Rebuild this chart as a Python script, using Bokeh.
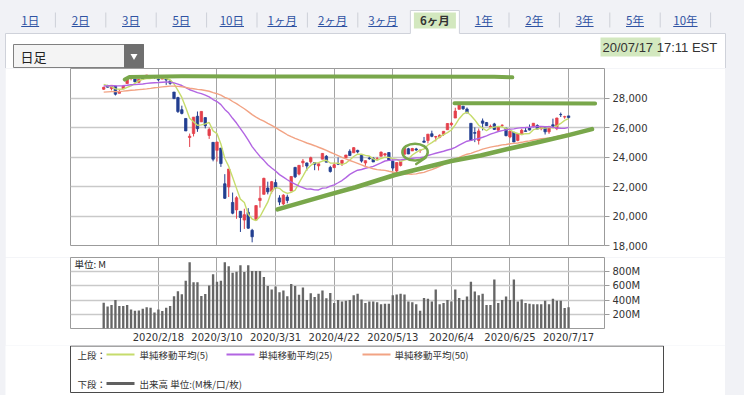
import pandas as pd
from bokeh.plotting import figure
from bokeh.models import Range1d, FixedTicker, NumeralTickFormatter, PrintfTickFormatter, ColumnDataSource, Grid
from bokeh.layouts import column
from bokeh.embed import file_html
from bokeh.resources import INLINE
from bokeh.core.properties import value

# ---------------- data ----------------
dates = ["2020/1/28", "2020/1/29", "2020/1/30", "2020/1/31",
         "2020/2/3", "2020/2/4", "2020/2/5", "2020/2/6", "2020/2/7", "2020/2/10", "2020/2/11", "2020/2/12",
         "2020/2/13", "2020/2/14", "2020/2/18", "2020/2/19", "2020/2/20", "2020/2/21", "2020/2/24", "2020/2/25",
         "2020/2/26", "2020/2/27", "2020/2/28",
         "2020/3/2", "2020/3/3", "2020/3/4", "2020/3/5", "2020/3/6", "2020/3/9", "2020/3/10", "2020/3/11",
         "2020/3/12", "2020/3/13", "2020/3/16", "2020/3/17", "2020/3/18", "2020/3/19", "2020/3/20", "2020/3/23",
         "2020/3/24", "2020/3/25", "2020/3/26", "2020/3/27", "2020/3/30", "2020/3/31",
         "2020/4/1", "2020/4/2", "2020/4/3", "2020/4/6", "2020/4/7", "2020/4/8", "2020/4/9", "2020/4/13",
         "2020/4/14", "2020/4/15", "2020/4/16", "2020/4/17", "2020/4/20", "2020/4/21", "2020/4/22", "2020/4/23",
         "2020/4/24", "2020/4/27", "2020/4/28", "2020/4/29", "2020/4/30",
         "2020/5/1", "2020/5/4", "2020/5/5", "2020/5/6", "2020/5/7", "2020/5/8", "2020/5/11", "2020/5/12",
         "2020/5/13", "2020/5/14", "2020/5/15", "2020/5/18", "2020/5/19", "2020/5/20", "2020/5/21", "2020/5/22",
         "2020/5/26", "2020/5/27", "2020/5/28", "2020/5/29",
         "2020/6/1", "2020/6/2", "2020/6/3", "2020/6/4", "2020/6/5", "2020/6/8", "2020/6/9", "2020/6/10",
         "2020/6/11", "2020/6/12", "2020/6/15", "2020/6/16", "2020/6/17", "2020/6/18", "2020/6/19", "2020/6/22",
         "2020/6/23", "2020/6/24", "2020/6/25", "2020/6/26", "2020/6/29", "2020/6/30",
         "2020/7/1", "2020/7/2", "2020/7/6", "2020/7/7", "2020/7/8", "2020/7/9", "2020/7/10", "2020/7/13",
         "2020/7/14", "2020/7/15", "2020/7/16", "2020/7/17"]

opens = [28594, 28820, 28640, 28813, 28320, 28626, 28983, 29339, 29286, 29061, 29341, 29402, 29437, 29440,
         29279, 29282, 29310, 29158, 28403, 28027, 27205, 26612, 25321,
         25591, 26762, 26383, 26671, 25458, 24992, 24453, 24604, 22184, 21973, 20918, 20414, 20320, 19724,
         20253, 19029, 19722, 21050, 21469, 21898, 21678, 22265,
         21227, 20819, 21285, 21693, 23294, 22841, 23605, 23597, 23681, 23626, 23398, 23855, 24050, 23293,
         23279, 23547, 23571, 23952, 24386, 24285, 24449,
         24120, 23594, 23930, 23916, 23866, 24051, 24134, 24304, 23715, 23047, 23431, 24184, 24557, 24414,
         24545, 24449, 25084, 25117, 25575, 25350,
         25342, 25533, 25848, 26192, 26643, 27232, 27447, 27251, 26282, 25659, 25127, 26445, 26334, 26030,
         26243, 25820, 26141, 25949, 25361, 25674, 25121, 25518,
         25778, 25962, 26066, 26137, 25919, 26059, 25706, 26186, 25920, 26885, 26709, 26788]

highs = [28760, 28892, 28879, 28813, 28592, 28885, 29306, 29380, 29286, 29277, 29415, 29568, 29508, 29440,
         29305, 29413, 29370, 29158, 28403, 28084, 27480, 26612, 25589,
         26706, 27084, 27091, 26671, 25994, 24992, 25020, 24604, 22837, 23186, 21589, 21343, 20320, 20492,
         20532, 19128, 20705, 22020, 22595, 22327, 22378, 22480,
         21409, 21478, 21447, 22680, 23328, 23434, 23865, 23620, 24021, 23626, 23548, 24264, 24127, 23404,
         23612, 23969, 23800, 24138, 24522, 24672, 24490,
         24120, 23763, 24065, 23986, 24003, 24370, 24277, 24317, 23755, 23633, 23712, 24632, 24620, 24620,
         24619, 24476, 25358, 25548, 25784, 25430,
         25534, 25742, 26291, 26382, 27338, 27580, 27447, 27355, 26282, 26010, 25930, 26611, 26375, 26200,
         26316, 26071, 26206, 25983, 25745, 25674, 25596, 25905,
         25983, 26204, 26288, 26214, 26067, 26060, 26080, 26600, 26660, 27013, 26796, 26788]

lows = [28550, 28716, 28518, 28170, 28320, 28626, 28983, 29198, 29056, 29035, 29245, 29402, 29406, 29310,
        29148, 29282, 28890, 28897, 27921, 26986, 26888, 25767, 24681,
        25392, 25706, 26383, 25943, 25226, 23707, 23690, 23328, 21154, 21285, 20117, 19811, 18918, 19124,
        19132, 18214, 19722, 20568, 21469, 21469, 21523, 21850,
        20735, 20736, 20863, 21693, 22570, 22754, 23315, 23074, 23559, 23105, 23087, 23855, 23650, 22941,
        23279, 23453, 23390, 23936, 24076, 24285, 24246,
        23623, 23406, 23814, 23662, 23769, 24051, 24034, 23761, 23076, 22790, 23361, 24184, 24193, 24414,
        24415, 24280, 24995, 24920, 25342, 25058,
        25272, 25434, 25848, 26108, 26643, 27232, 27193, 26973, 25082, 25008, 24844, 25802, 26105, 25950,
        25829, 25708, 26041, 25403, 25272, 25010, 25064, 25518,
        25734, 25804, 26004, 25890, 25810, 25525, 25568, 26066, 25820, 26710, 26593, 26593]

closes = [28723, 28734, 28859, 28256, 28400, 28807, 29291, 29380, 29103, 29276, 29276, 29551, 29424, 29398,
          29232, 29348, 29219, 28992, 27961, 27081, 26957, 25766, 25409,
          26703, 25917, 27091, 26121, 25865, 23851, 25018, 23553, 21200, 23186, 20189, 21237, 19899, 20087,
          19174, 18592, 20705, 21200, 22552, 21637, 22327, 21917,
          20944, 21413, 21053, 22680, 22654, 23434, 23719, 23390, 23950, 23505, 23538, 24242, 23650, 23019,
          23475, 23516, 23775, 24134, 24101, 24634, 24346,
          23724, 23750, 23883, 23664, 23875, 24331, 24221, 23765, 23248, 23625, 23685, 24597, 24206, 24576,
          24474, 24465, 24995, 25548, 25401, 25383,
          25475, 25742, 26270, 26281, 27111, 27572, 27272, 26990, 25128, 25606, 25763, 26290, 26120, 26080,
          25871, 26025, 26156, 25446, 25745, 25016, 25596, 25813,
          25735, 25827, 26287, 25890, 26067, 25706, 26075, 26086, 26643, 26870, 26735, 26672]

# closes of the 49 sessions before the first bar (needed for the moving averages)
history_closes = [27782, 28005, 28036, 27934, 27821, 27766, 27876, 28066, 28121, 28164, 28051,
                  27783, 27503, 27650, 27678, 28015, 27909, 27881, 27911, 28132, 28135, 28235, 28267,
                  28240, 28377, 28455, 28551, 28515, 28621, 28645, 28462, 28538,
                  28868, 28634, 28703, 28584, 28745, 28956, 28824, 28907, 28940, 29030, 29298, 29348,
                  29196, 29186, 29160, 28990, 28535]

# volume, millions
volumes_m = [364, 309, 332, 400, 318, 318, 332, 268, 250, 255, 277, 300, 291, 227, 268, 245, 291, 318,
             455, 523, 482, 673, 932, 650, 650, 459, 486, 605, 764, 659, 673, 932, 877, 786, 800, 891,
             795, 891, 809, 809, 809, 727, 600, 550, 591, 509, 536, 455, 627, 600, 477, 577, 400, 495,
             445, 491, 536, 427, 500, 359, 400,
             380, 390, 400, 470, 490, 410, 360, 380, 380, 370, 340, 350, 350, 470, 480, 490, 480, 380,
             370, 340, 250, 430, 420, 380, 550, 340, 360, 400, 380, 550, 430, 400, 450, 660, 520, 470,
             490, 330, 330, 690, 360, 400, 450, 400, 690, 380, 410, 360, 350, 340, 340, 340, 390, 340,
             420, 390, 390, 290, 300]

tick_labels = ["2020/2/18", "2020/3/10", "2020/3/31", "2020/4/22", "2020/5/13", "2020/6/4", "2020/6/25", "2020/7/17"]
price_ticks = [18000, 20000, 22000, 24000, 26000, 28000]
volume_ticks = [200, 400, 600, 800]
ma_periods = [5, 25, 50]

tabs = ["1日", "2日", "3日", "5日", "10日", "1ヶ月", "2ヶ月", "3ヶ月", "6ヶ月", "1年", "2年", "3年", "5年", "10年"]
active_tab = "6ヶ月"
interval_label = "日足"
stamp_date = "20/07/17"
stamp_time = "17:11 EST"
volume_unit = "単位: M"
legend_upper = "上段："
legend_lower = "下段："
ma_names = ["単純移動平均(5)", "単純移動平均(25)", "単純移動平均(50)"]
volume_name = "出来高 単位:(M株/口/枚)"

# hand-drawn green marks (trading-day index, price)
top_line_x = [5.4, 6.6, 20, 60, 100, 104.6]
top_line_y = [29250, 29430, 29470, 29450, 29440, 29400]
mid_line_x = [89.8, 125.8]
mid_line_y = [27650, 27620]
support_x = [44.5, 57, 64.5, 74.5, 89, 96.5, 104, 112, 119, 125]
support_y = [20450, 21400, 21950, 22780, 23730, 24100, 24580, 25050, 25480, 25890]
circle_x, circle_y, circle_w, circle_h = 79.7, 24330, 6.5, 1150
circle_tail_x = [82.4, 80.0]
circle_tail_y = [23950, 23520]

n = len(dates)
assert all(len(a) == n for a in (opens, highs, lows, closes, volumes_m))
idx = list(range(n))
tick_idx = [dates.index(t) for t in tick_labels]

# ---------------- style / layout ----------------
UP, DOWN = "#e4404b", "#233f91"
MA_COLORS = ["#c6dc6c", "#b265e2", "#f2a384"]
GREEN = "#79a74b"
PAGE_BG = "#f1f2f6"
JP = "Noto Sans CJK JP"
NUM = "DejaVu Sans"
TOTAL_W = 744
PANEL_L, PANEL_R = 5, 725           # white panel edges (page px)
FW = PANEL_R - PANEL_L              # width of the lower figures
FRAME_L, FRAME_R = 70, 604          # chart frame edges (page px)
x_range = Range1d(-8.5, 128.2)
COMMON = dict(output_backend="svg", toolbar_location=None, frame_align=False)

# ---------------- header ----------------
HH = 68
hdr = figure(width=TOTAL_W, height=HH, x_range=Range1d(0, TOTAL_W), y_range=Range1d(HH, 0),
             x_axis_location=None, y_axis_location=None, min_border=0, **COMMON)
hdr.grid.visible = False
hdr.outline_line_color = None
hdr.background_fill_color = PAGE_BG
hdr.border_fill_color = PAGE_BG
PANEL_TOP = 33
hdr.quad(left=[PANEL_L], right=[PANEL_R], top=[PANEL_TOP], bottom=[HH + 2], fill_color="white", line_color=None)

tab_step, tab_x0 = 50.4, 29.7
tab_cx = [tab_x0 + tab_step * i for i in range(len(tabs))]
ai = tabs.index(active_tab)
acx = tab_cx[ai] + 1.5
hdr.quad(left=[acx - 24.5], right=[acx + 24.5], top=[10], bottom=[PANEL_TOP + 1], fill_color="white", line_color=None)
hdr.multi_line(xs=[[PANEL_L, PANEL_L, acx - 24.5, acx - 24.5, acx + 24.5, acx + 24.5, PANEL_R, PANEL_R]],
               ys=[[HH + 2, PANEL_TOP, PANEL_TOP, 10, 10, PANEL_TOP, PANEL_TOP, HH + 2]],
               line_color="#cfd2da", line_width=1)
hdr.quad(left=[acx - 21], right=[acx + 21], top=[12], bottom=[28], fill_color="#d3e8bf", line_color=None)


def text_w(s, size):
    return sum(size * 0.56 if c.isascii() else size for c in s)


FS = 11.5
TY = 19
other = [i for i in range(len(tabs)) if i != ai]
hdr.text(x=[tab_cx[i] for i in other], y=[TY] * len(other), text=[tabs[i] for i in other],
         text_font=value(JP), text_font_size=f"{FS}px", text_color="#2f53a3", text_align="center",
         text_baseline="middle")
hdr.segment(x0=[tab_cx[i] - text_w(tabs[i], FS) / 2 for i in other], y0=[TY + 7] * len(other),
            x1=[tab_cx[i] + text_w(tabs[i], FS) / 2 for i in other], y1=[TY + 7] * len(other),
            line_color="#2f53a3", line_width=1)
hdr.text(x=[acx], y=[TY], text=[active_tab], text_font=value(JP), text_font_size=f"{FS}px",
         text_font_style="bold", text_color="#333333", text_align="center", text_baseline="middle")
seps = [(tab_cx[i] + tab_cx[i + 1]) / 2 for i in range(len(tabs) - 1) if i not in (ai - 1, ai)]
seps.append(tab_cx[-1] + tab_step / 2)
hdr.segment(x0=seps, y0=[TY - 7] * len(seps), x1=seps, y1=[TY + 8] * len(seps), line_color="#cdd0d8",
            line_width=1)

# dropdown
hdr.quad(left=[13], right=[143], top=[44], bottom=[67], fill_color="#f4f4f4", line_color="#808080", line_width=1)
hdr.quad(left=[124], right=[143], top=[44], bottom=[67], fill_color="#6f6f6f", line_color="#6f6f6f")
hdr.scatter(x=[133.5], y=[55.5], marker="inverted_triangle", size=7, fill_color="white", line_color=None)
hdr.text(x=[20], y=[56], text=[interval_label], text_font=value(JP), text_font_size="13px",
         text_color="#222222", text_baseline="middle")
# timestamp
hdr.quad(left=[600], right=[660], top=[37], bottom=[56], fill_color="#d3e8bf", line_color=None)
hdr.text(x=[602], y=[47], text=[stamp_date + " " + stamp_time], text_font=value("Liberation Sans"),
         text_font_size="13px", text_color="#333333", text_baseline="middle")

# ---------------- price chart ----------------
p = figure(width=FW, height=189, x_range=x_range, y_range=Range1d(18000, 30000),
           x_axis_location=None, y_axis_location="right", margin=(0, 0, 0, PANEL_L),
           min_border_left=FRAME_L - PANEL_L, min_border_right=PANEL_R - FRAME_R, min_border_top=0,
           min_border_bottom=12, **COMMON)
p.grid.visible = False
p.outline_line_color = "#9b9b9b"
p.border_fill_color = "white"
p.add_layout(Grid(dimension=0, ticker=FixedTicker(ticks=tick_idx), grid_line_color="#a4a4a4", grid_line_width=1))
p.add_layout(Grid(dimension=1, ticker=FixedTicker(ticks=price_ticks), grid_line_color="#c9c9c9", grid_line_width=1.5))
ya = p.yaxis[0]
ya.ticker = FixedTicker(ticks=price_ticks)
ya.formatter = NumeralTickFormatter(format="0,0")
ya.axis_line_color = None
ya.major_tick_line_color = "#9b9b9b"
ya.major_tick_out = 5
ya.major_tick_in = 0
ya.minor_tick_line_color = None
ya.major_label_standoff = 3
ya.major_label_text_font = NUM
ya.major_label_text_font_size = "10px"
ya.major_label_text_color = "#333333"

src = ColumnDataSource(dict(
    x=idx, o=opens, h=highs, l=lows, c=closes,
    top=[max(a, b) for a, b in zip(opens, closes)],
    bottom=[min(a, b) for a, b in zip(opens, closes)],
    color=[UP if c >= o else DOWN for o, c in zip(opens, closes)],
))
p.segment(x0="x", y0="l", x1="x", y1="h", source=src, line_color="color", line_width=1)
p.vbar(x="x", width=0.62, top="top", bottom="bottom", source=src, fill_color="color", line_color="color",
       line_width=0.8)

all_close = pd.Series(history_closes + closes, dtype=float)
nh = len(history_closes)
for per, col in zip(ma_periods, MA_COLORS):
    ma = all_close.rolling(per).mean().to_numpy()[nh:]
    p.line(idx, ma, line_color=col, line_width=1.4)

p.line(top_line_x, top_line_y, line_color=GREEN, line_width=4, line_cap="round", line_join="round")
p.line(mid_line_x, mid_line_y, line_color=GREEN, line_width=4, line_cap="round")
p.line(support_x, support_y, line_color=GREEN, line_width=4.5, line_cap="round", line_join="round")
p.ellipse(x=[circle_x], y=[circle_y], width=circle_w, height=circle_h, fill_color=None,
          line_color=GREEN, line_width=2.5)
p.line(circle_tail_x, circle_tail_y, line_color=GREEN, line_width=2.5, line_cap="round")

# ---------------- volume chart ----------------
v = figure(width=FW, height=88, x_range=x_range, y_range=Range1d(0, 1000),
           x_axis_location="below", y_axis_location="right", margin=(0, 0, 0, PANEL_L),
           min_border_left=FRAME_L - PANEL_L, min_border_right=PANEL_R - FRAME_R, min_border_top=0,
           min_border_bottom=15, **COMMON)
v.grid.visible = False
v.outline_line_color = "#9b9b9b"
v.border_fill_color = "white"
v.add_layout(Grid(dimension=0, ticker=FixedTicker(ticks=tick_idx), grid_line_color="#a4a4a4", grid_line_width=1))
v.add_layout(Grid(dimension=1, ticker=FixedTicker(ticks=volume_ticks), grid_line_color="#c9c9c9", grid_line_width=1.5))
xa = v.xaxis[0]
xa.ticker = FixedTicker(ticks=tick_idx)
xa.major_label_overrides = {i: t for i, t in zip(tick_idx, tick_labels)}
xa.axis_line_color = None
xa.major_tick_line_color = None
xa.minor_tick_line_color = None
xa.major_tick_out = 0
xa.major_tick_in = 0
xa.major_label_standoff = 3
xa.major_label_text_font = NUM
xa.major_label_text_font_size = "10px"
xa.major_label_text_color = "#333333"
vy = v.yaxis[0]
vy.ticker = FixedTicker(ticks=volume_ticks)
vy.formatter = PrintfTickFormatter(format="%dM")
vy.axis_line_color = None
vy.major_tick_line_color = "#9b9b9b"
vy.major_tick_out = 5
vy.major_tick_in = 0
vy.minor_tick_line_color = None
vy.major_label_standoff = 3
vy.major_label_text_font = NUM
vy.major_label_text_font_size = "10px"
vy.major_label_text_color = "#333333"
v.vbar(x=idx, top=volumes_m, width=0.6, fill_color="#666666", line_color=None)
v.text(x=[x_range.start + 1.0], y=[915], text=[volume_unit], text_font=value(JP), text_font_size="9.5px",
       text_color="#222222", text_baseline="middle")

# ---------------- legend ----------------
FH = 50
f = figure(width=FW, height=FH, x_range=Range1d(PANEL_L, PANEL_R), y_range=Range1d(FH, 0),
           x_axis_location=None, y_axis_location=None, min_border=0, margin=(0, 0, 0, PANEL_L), **COMMON)
f.grid.visible = False
f.outline_line_color = None
f.border_fill_color = "white"
f.background_fill_color = "white"
f.quad(left=[FRAME_L], right=[663], top=[0.5], bottom=[47], fill_color=None, line_color="#4a4a4a", line_width=1)
r1, r2 = 9, 38
f.text(x=[77, 77], y=[r1, r2], text=[legend_upper, legend_lower], text_font=value(JP), text_font_size="9.5px",
       text_color="#333333", text_baseline="middle")
line_x0 = [106, 226, 362]
text_x = [139, 258, 394]
f.segment(x0=line_x0, y0=[r1] * 3, x1=[x + 28 for x in line_x0], y1=[r1] * 3, line_color=MA_COLORS, line_width=2)
f.text(x=text_x, y=[r1] * 3, text=ma_names, text_font=value(JP), text_font_size="9.5px", text_color="#333333",
       text_baseline="middle")
f.segment(x0=[106], y0=[r2], x1=[134], y1=[r2], line_color="#606060", line_width=3)
f.text(x=[139], y=[r2], text=[volume_name], text_font=value(JP), text_font_size="9.5px", text_color="#333333",
       text_baseline="middle")

layout = column(hdr, p, v, f, styles={"background-color": PAGE_BG})
open("out.html", "w").write(file_html(layout, INLINE))
